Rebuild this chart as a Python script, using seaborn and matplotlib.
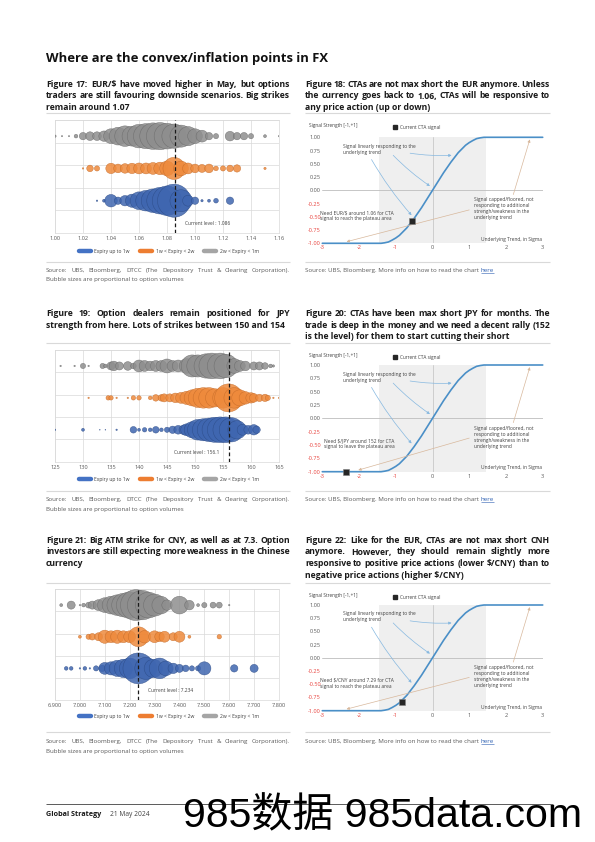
"""Where are the convex/inflation points in FX: option strike bubbles and CTA signal curves."""

import matplotlib

matplotlib.use("Agg")

import matplotlib.pyplot as plt
import numpy as np
import pandas as pd
import seaborn as sns
from matplotlib.lines import Line2D
from matplotlib.ticker import StrMethodFormatter

sns.set_theme(style="white")
plt.rcParams["font.family"] = ["Open Sans", "DejaVu Sans"]

W, H = 595, 842

# ---------------- option strike bubbles (strike, relative volume) ----------------
EXPIRIES = ["Expiry up to 1w", "1w < Expiry < 2w", "2w < Expiry < 1m"]

EUR_TICKS = [1.00, 1.02, 1.04, 1.06, 1.08, 1.10, 1.12, 1.14, 1.16]
EUR_LEVEL = 1.086
EUR_1W_STRIKES = [1.030, 1.035, 1.040, 1.045, 1.050, 1.055, 1.060, 1.065, 1.070, 1.075,
                  1.080, 1.085, 1.090, 1.095, 1.100, 1.105, 1.110, 1.115, 1.125]
EUR_1W_VOLS = [0.4, 1.6, 29, 10, 20, 32, 58, 78, 102, 130, 160, 202, 90, 22, 10, 1, 1.6, 4, 10]
EUR_2W_STRIKES = [1.020, 1.025, 1.030, 1.040, 1.045, 1.050, 1.055, 1.060, 1.065, 1.070, 1.075,
                  1.080, 1.085, 1.090, 1.095, 1.100, 1.105, 1.110, 1.115, 1.120, 1.125, 1.130, 1.150]
EUR_2W_VOLS = [0.4, 8, 5, 20, 14, 17, 20, 22, 22, 26, 29, 40, 90, 40, 22, 14, 12, 14, 4, 5, 8, 10, 1]
EUR_1M_STRIKES = [1.000, 1.005, 1.010, 1.015, 1.020, 1.025, 1.030, 1.035, 1.040, 1.045,
                  1.050, 1.055, 1.060, 1.065, 1.070, 1.075, 1.080, 1.085, 1.090, 1.095,
                  1.100, 1.105, 1.110, 1.115, 1.125, 1.130, 1.135, 1.140, 1.150, 1.160]
EUR_1M_VOLS = [1, 0.3, 0.3, 2.5, 10, 14, 14, 20, 40, 58, 78, 73, 102, 116, 130, 137, 122, 109, 90, 68,
               40, 26, 10, 5, 17, 10, 10, 5, 1.6, 0.4]

JPY_TICKS = [125, 130, 135, 140, 145, 150, 155, 160, 165]
JPY_LEVEL = 156.1
JPY_1W_STRIKES = [125, 130, 133, 134, 136, 139, 140, 141, 142, 143, 144, 145, 146, 147, 148,
                  148.5, 149.5, 150.5, 151.5, 152.5, 153.5, 154.5, 155.5, 156.5, 157.5, 158.5,
                  159.5, 160.5, 161]
JPY_1W_VOLS = [0.4, 1.6, 0.1, 0.1, 0.4, 8, 1.6, 3.6, 2.5, 8, 2.5, 5, 10, 14, 17, 26, 48, 78, 90, 102,
               116, 122, 122, 109, 62, 22, 14, 20, 10]
JPY_2W_STRIKES = [131, 134.5, 135, 136, 138, 139, 140, 142, 143, 144, 144.5, 145.5, 146.5, 147.5,
                  148.5, 149.5, 150.5, 151.5, 152.5, 153.5, 155, 156, 157, 158, 159, 160, 160.5,
                  161.5, 162.5, 163, 164, 165]
JPY_2W_VOLS = [0.4, 3.6, 3.6, 0.4, 0.4, 3.6, 3.6, 2.5, 8, 8, 12, 12, 17, 22, 32, 48, 68, 78, 78, 62,
               78, 144, 78, 48, 29, 20, 14, 10, 10, 5, 0.4, 0.4]
JPY_1M_STRIKES = [126, 128.5, 130, 131, 133.5, 134, 135, 135.5, 136.5, 138, 139, 140, 141, 142, 143,
                  144, 145, 146, 147, 148.5, 149.5, 150.5, 152, 153, 154.5, 155.5, 157, 158, 159,
                  160.5, 161.5, 162.5, 163.5, 164]
JPY_1M_VOLS = [0.4, 0.4, 5, 0.4, 5, 2.5, 12, 17, 12, 14, 6, 26, 22, 17, 22, 22, 36, 22, 26, 40,
               90, 90, 109, 122, 122, 102, 40, 22, 17, 12, 12, 8, 2.5, 1]

CNY_TICKS = [6.9, 7.0, 7.1, 7.2, 7.3, 7.4, 7.5, 7.6, 7.7, 7.8]
CNY_LEVEL = 7.234
CNY_1W_STRIKES = [6.945, 6.965, 7.000, 7.020, 7.040, 7.065, 7.090, 7.100, 7.125, 7.150, 7.175,
                  7.200, 7.235, 7.265, 7.295, 7.320, 7.345, 7.375, 7.400, 7.425, 7.450, 7.475,
                  7.500, 7.620, 7.700]
CNY_1W_VOLS = [2.5, 2.5, 0.4, 2.5, 0.4, 5, 8, 26, 32, 48, 62, 78, 176, 90, 62, 78, 40, 20, 12, 8,
               5, 5, 32, 10, 12]
CNY_2W_STRIKES = [7.000, 7.035, 7.050, 7.075, 7.100, 7.125, 7.150, 7.175, 7.200, 7.235, 7.260,
                  7.300, 7.320, 7.340, 7.375, 7.400, 7.440, 7.560]
CNY_2W_VOLS = [1.6, 5, 8, 12, 32, 26, 32, 26, 26, 73, 29, 26, 17, 22, 12, 22, 1.6, 3.6]
CNY_1M_STRIKES = [6.925, 6.965, 7.000, 7.015, 7.035, 7.050, 7.075, 7.100, 7.125, 7.150, 7.175,
                  7.200, 7.225, 7.250, 7.275, 7.300, 7.325, 7.350, 7.400, 7.440, 7.475, 7.500,
                  7.535, 7.560, 7.600]
CNY_1M_VOLS = [1.6, 12, 0.4, 2.5, 6.4, 12, 22, 40, 58, 78, 102, 130, 176, 160, 122, 90, 58, 20, 58,
               17, 1.6, 5, 6.4, 6.4, 0.4]

# ---------------- CTA signal curve ----------------
CTA_TREND = [-3.0, -1.4, -1.3, -1.2, -1.1, -1.0, -0.9, -0.8, -0.7, -0.6, -0.5, -0.4, -0.3, -0.2,
             -0.1, 0.0, 0.1, 0.2, 0.3, 0.4, 0.5, 0.6, 0.7, 0.8, 0.9, 1.0, 1.1, 1.2, 1.3, 1.4, 3.0]
CTA_SIGNAL = [-1.0, -1.0, -0.99, -0.975, -0.94, -0.90, -0.85, -0.78, -0.71, -0.62, -0.53, -0.43,
              -0.33, -0.22, -0.11, 0.0, 0.11, 0.22, 0.33, 0.43, 0.53, 0.62, 0.71, 0.78, 0.85, 0.90,
              0.94, 0.975, 0.99, 1.0, 1.0]
CTA_XTICKS = [-3, -2, -1, 0, 1, 2, 3]
CTA_YTICKS = [-1.0, -0.75, -0.5, -0.25, 0.0, 0.25, 0.5, 0.75, 1.0]
CTA_EUR_NOW = (-0.55, -0.58)
CTA_JPY_NOW = (-2.35, -1.0)
CTA_CNY_NOW = (-0.84, -0.83)

BUBBLE = {EXPIRIES[0]: "#3F66B0", EXPIRIES[1]: "#EE8A3C", EXPIRIES[2]: "#8E8E8E"}
EDGE = {EXPIRIES[0]: "#2B4A85", EXPIRIES[1]: "#C46A28", EXPIRIES[2]: "#686868"}
LEGEND = {EXPIRIES[0]: "#4472C4", EXPIRIES[1]: "#ED7D31", EXPIRIES[2]: "#A5A5A5"}
GRID = "#D9D9D9"
TICK = "#595959"
RED = "#E8413C"
LINE_BLUE = "#4A8FC7"
ARROW_BLUE = "#86B8E0"
ARROW_TAN = "#D8B89C"
TICK_FONT = 4.1
SMALL_FONT = 3.5
BUBBLE_SCALE = 2.8  # marker area (pt^2) per unit of volume


def box(x0, y0, x1, y1):
    return [x0 / W, 1 - y1 / H, (x1 - x0) / W, (y1 - y0) / H]


def put(ax, x, y, s, **kw):
    return ax.text(x, y, s, parse_math=False, **kw)


def paragraph(page, x0, x1, y0, step, lines, **kw):
    renderer = page.figure.canvas.get_renderer()
    for i, line in enumerate(lines):
        y = y0 + i * step
        if i == len(lines) - 1:
            put(page, x0, y, line, va="baseline", **kw)
            continue
        words = line.split(" ")
        texts = [put(page, x0, y, w, va="baseline", **kw) for w in words]
        widths = [t.get_window_extent(renderer).width for t in texts]
        gap = (x1 - x0 - sum(widths)) / (len(words) - 1)
        x = x0
        for t, w in zip(texts, widths):
            t.set_x(x)
            x += w + gap


def bubble_chart(fig, rect, series, ticks, fmt, level, level_side, legend_y):
    ax = fig.add_axes(rect)
    vmax = max(max(vols) for _, _, vols in series)
    for row, (name, strikes, vols) in enumerate(series, start=1):
        df = pd.DataFrame({"strike": strikes, "volume": vols})
        df["row"] = row
        sns.scatterplot(data=df, x="strike", y="row", size="volume",
                        sizes=(0, BUBBLE_SCALE * vmax), size_norm=(0, vmax),
                        color=BUBBLE[name], edgecolor=EDGE[name],
                        linewidth=0.35, alpha=0.85, legend=False, ax=ax, zorder=3)
    ax.axvline(level, color="#1A1A1A", lw=0.9, ls=(0, (3, 2)), zorder=5)
    dx = 7 if level_side == "right" else -7
    ax.annotate(f"Current level : {level}", xy=(level, 0.3), xytext=(dx, 0),
                textcoords="offset points", ha="left" if dx > 0 else "right", va="center",
                fontsize=SMALL_FONT, color="#404040")

    ax.set_xlim(ticks[0], ticks[-1])
    ax.set_ylim(0, 3.5)
    ax.set_xticks(ticks)
    ax.xaxis.set_major_formatter(StrMethodFormatter(fmt))
    ax.set_yticks(np.arange(0, 3.51, 0.7))
    ax.set_yticklabels([])
    ax.set_xlabel("")
    ax.set_ylabel("")
    ax.grid(True, color=GRID, lw=0.5)
    ax.set_axisbelow(True)
    ax.tick_params(length=0, labelsize=TICK_FONT, labelcolor=TICK, pad=2.5)
    for spine in ax.spines.values():
        spine.set_color(GRID)
        spine.set_linewidth(0.5)

    handles = [Line2D([0], [0], color=LEGEND[n], lw=3.2, solid_capstyle="round") for n in EXPIRIES]
    ax.legend(handles, EXPIRIES, loc="center", bbox_to_anchor=(169 / W, 1 - legend_y / H),
              bbox_transform=fig.transFigure, ncol=3, frameon=False, fontsize=3.6,
              handlelength=2.4, handletextpad=0.8, columnspacing=2.0, labelcolor="#404040")
    return ax


def cta_chart(fig, page, rect, now, need_text, need_x, tan_end, label_gap):
    ax = fig.add_axes(rect)
    ax.axvspan(-1.45, 1.45, color="#EFEFEF", lw=0, zorder=0)
    ax.axvline(0, color="#C8C8C8", lw=0.6, zorder=1)
    ax.axhline(0, color="#BDBDBD", lw=0.6, zorder=1)
    sns.lineplot(x=CTA_TREND, y=CTA_SIGNAL, ax=ax, color=LINE_BLUE, lw=1.2, estimator=None,
                 zorder=3, clip_on=False)
    sns.scatterplot(x=[now[0]], y=[now[1]], ax=ax, marker="s", s=14, color="#262626",
                    edgecolor="#808080", linewidth=0.4, zorder=6, clip_on=False)

    ax.set_xlim(-3, 3)
    ax.set_ylim(-1, 1)
    ax.set_xticks(CTA_XTICKS)
    ax.set_xticklabels([str(v) for v in CTA_XTICKS])
    ax.set_yticks(CTA_YTICKS)
    ax.set_yticklabels([f"{v:.2f}" for v in CTA_YTICKS])
    for lbl, v in zip(ax.get_xticklabels(), CTA_XTICKS):
        lbl.set_color(RED if v < 0 else TICK)
    for lbl, v in zip(ax.get_yticklabels(), CTA_YTICKS):
        lbl.set_color(RED if v < 0 else TICK)
    ax.tick_params(length=0, labelsize=TICK_FONT, pad=1.5)
    ax.tick_params(axis="y", pad=1)
    for spine in ax.spines.values():
        spine.set_visible(False)

    note = dict(fontsize=SMALL_FONT, color="#404040", linespacing=1.25, parse_math=False)
    ax.text(-2.43, 0.775, "Signal linearly responding to the\nunderlying trend", va="center", **note)
    ax.text(1.14, -0.35, "Signal capped/floored, not\nresponding to additional\n"
            "strengh/weakness in the\nunderlying trend", va="center", **note)
    ax.text(need_x, -0.48, need_text, va="center", **note)
    ax.text(2.97, -0.93, "Underlying Trend, in Sigma", ha="right", va="center", **note)

    blue = dict(arrowstyle="-|>", color=ARROW_BLUE, lw=0.5, mutation_scale=4, shrinkA=0, shrinkB=0)
    for start, end in [((-0.61, 0.70), (0.52, 0.66)), ((-1.07, 0.66), (-0.07, 0.08)),
                       ((-1.66, 0.58), (-0.57, -0.47))]:
        ax.annotate("", xy=end, xytext=start, arrowprops=dict(blue, connectionstyle="arc3,rad=0.05"))
    tan = dict(arrowstyle="-|>", color=ARROW_TAN, lw=0.5, mutation_scale=4, shrinkA=0, shrinkB=0)
    ax.annotate("", xy=(2.65, 0.96), xytext=(2.2, -0.08), arrowprops=tan)
    ax.annotate("", xy=tan_end, xytext=(1.0, -0.37), arrowprops=tan)

    top = (1 - rect[1] - rect[3]) * H
    put(page, 309, top - label_gap, "Signal Strength [-1,+1]", va="center", fontsize=3.4,
        color="#404040")
    ax.legend([Line2D([], [], marker="s", ls="", color="#262626", markersize=2.6)],
              ["Current CTA signal"], loc="center left",
              bbox_to_anchor=(393 / W, 1 - (top - label_gap + 2) / H), bbox_transform=fig.transFigure,
              frameon=False, fontsize=3.4, handlelength=1.0, handletextpad=0.4, borderpad=0,
              borderaxespad=0, labelcolor="#404040")
    return ax


fig = plt.figure(figsize=(W / 100, H / 100), dpi=100)
page = fig.add_axes([0, 0, 1, 1])
page.set_xlim(0, W)
page.set_ylim(H, 0)
page.axis("off")

LEFT, MID, RIGHT, END = 46, 290, 305, 550

put(page, LEFT, 62, "Where are the convex/inflation points in FX", fontsize=9.4,
    fontweight="bold", color="#111111", va="baseline")

cap = dict(fontsize=6.2, fontweight="bold", color="#1A1A1A")
paragraph(page, LEFT, MID, 87, 11.5, [
    "Figure 17: EUR/$ have moved higher in May, but options",
    "traders are still favouring downside scenarios. Big strikes",
    "remain around 1.07"], **cap)
paragraph(page, RIGHT, END, 87, 11.5, [
    "Figure 18: CTAs are not max short the EUR anymore. Unless",
    "the currency goes back to 1.06, CTAs will be responsive to",
    "any price action (up or down)"], **cap)
paragraph(page, LEFT, MID, 316, 11.5, [
    "Figure 19: Option dealers remain positioned for JPY",
    "strength from here. Lots of strikes between 150 and 154"], **cap)
paragraph(page, RIGHT, END, 316, 11.5, [
    "Figure 20: CTAs have been max short JPY for months. The",
    "trade is deep in the money and we need a decent rally (152",
    "is the level) for them to start cutting their short"], **cap)
paragraph(page, LEFT, MID, 543, 11.5, [
    "Figure 21: Big ATM strike for CNY, as well as at 7.3. Option",
    "investors are still expecting more weakness in the Chinese",
    "currency"], **cap)
paragraph(page, RIGHT, END, 543, 11.5, [
    "Figure 22: Like for the EUR, CTAs are not max short CNH",
    "anymore. However, they should remain slightly more",
    "responsive to positive price actions (lower $/CNY) than to",
    "negative price actions (higher $/CNY)"], **cap)

for y in [113, 262, 343, 491, 583, 732]:
    page.hlines(y, LEFT, MID, color=GRID, lw=0.8)
    page.hlines(y, RIGHT, END, color=GRID, lw=0.8)

src = dict(fontsize=4.4, color="#595959")
renderer = fig.canvas.get_renderer()
for y in [272, 501, 743]:
    paragraph(page, LEFT, MID, y, 9.5, [
        "Source: UBS, Bloomberg, DTCC (The Depository Trust & Clearing Corporation).",
        "Bubble sizes are proportional to option volumes"], **src)
    t = put(page, RIGHT, y, "Source: UBS, Bloomberg. More info on how to read the chart ",
            va="baseline", **src)
    x_here = RIGHT + t.get_window_extent(renderer).width
    h = put(page, x_here, y, "here", va="baseline", fontsize=4.4, color="#2A5DB0")
    page.hlines(y + 1.2, x_here, x_here + h.get_window_extent(renderer).width, color="#2A5DB0", lw=0.4)

bubble_chart(fig, box(55, 120, 279, 233),
             [(EXPIRIES[0], EUR_1W_STRIKES, EUR_1W_VOLS), (EXPIRIES[1], EUR_2W_STRIKES, EUR_2W_VOLS),
              (EXPIRIES[2], EUR_1M_STRIKES, EUR_1M_VOLS)],
             EUR_TICKS, "{x:.2f}", EUR_LEVEL, "right", 251)
bubble_chart(fig, box(55, 350, 279, 461.7),
             [(EXPIRIES[0], JPY_1W_STRIKES, JPY_1W_VOLS), (EXPIRIES[1], JPY_2W_STRIKES, JPY_2W_VOLS),
              (EXPIRIES[2], JPY_1M_STRIKES, JPY_1M_VOLS)],
             JPY_TICKS, "{x:.0f}", JPY_LEVEL, "left", 479)
bubble_chart(fig, box(55, 589.3, 279, 700),
             [(EXPIRIES[0], CNY_1W_STRIKES, CNY_1W_VOLS), (EXPIRIES[1], CNY_2W_STRIKES, CNY_2W_VOLS),
              (EXPIRIES[2], CNY_1M_STRIKES, CNY_1M_VOLS)],
             CNY_TICKS, "{x:.3f}", CNY_LEVEL, "right", 716.7)

cta_chart(fig, page, box(322.3, 137.3, 542.7, 243.3), CTA_EUR_NOW,
          "Need EUR/$ around 1.06 for CTA\nsignal to reach the plateau area", -3.05, (-2.34, -0.97), 12)
cta_chart(fig, page, box(322.3, 365, 542.7, 471.7), CTA_JPY_NOW,
          "Need $/JPY around 152 for CTA\nsignal to leave the plateau area", -2.95, (-2.02, -0.97), 10)
cta_chart(fig, page, box(322.3, 605, 542.7, 710.7), CTA_CNY_NOW,
          "Need $/CNY around 7.29 for CTA\nsignal to reach the plateau area", -3.05, (-2.34, -0.97), 10)

page.hlines(804, LEFT, 553, color="#404040", lw=0.6)
put(page, LEFT, 816, "Global Strategy", fontsize=5.2, fontweight="bold", color="#1A1A1A", va="baseline")
put(page, 110, 816, "21 May 2024", fontsize=4.8, color="#404040", va="baseline")
put(page, 183, 827, "985数据 985data.com", fontsize=29.5, color="black", va="baseline",
    family=["Liberation Sans", "Noto Sans CJK SC"])

fig.savefig("out.png", dpi=100)
